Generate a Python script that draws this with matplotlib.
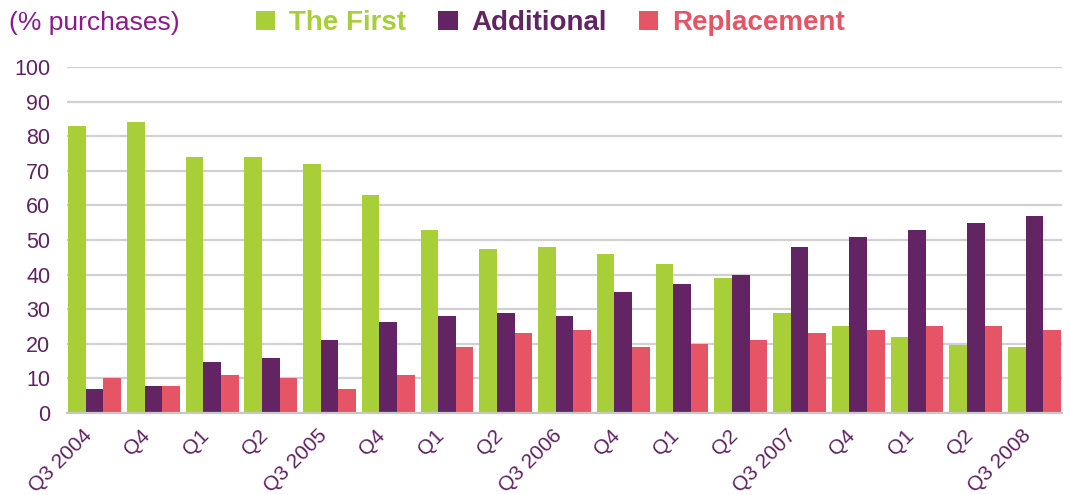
import numpy as np
import matplotlib.pyplot as plt
from matplotlib.transforms import ScaledTranslation

plt.rcParams['font.family'] = ['Liberation Sans', 'DejaVu Sans']

# quarters
labels = ['Q3 2004', 'Q4', 'Q1', 'Q2', 'Q3 2005', 'Q4', 'Q1', 'Q2', 'Q3 2006',
          'Q4', 'Q1', 'Q2', 'Q3 2007', 'Q4', 'Q1', 'Q2', 'Q3 2008']
first = [83, 84, 74, 74, 72, 63, 53, 47.5, 48, 46, 43, 39, 29, 25, 22, 19.7, 19.1]
additional = [6.8, 7.8, 14.8, 16, 21, 26.2, 28, 29, 28, 35, 37.2, 39.8, 48, 51, 53, 55, 57]
replacement = [10, 7.8, 11, 10, 6.8, 11, 19.2, 23, 24, 19.2, 19.8, 21, 23, 24, 25, 25, 24]

c_first = '#A8CE38'
c_add = '#622462'
c_rep = '#E55566'
txt = '#5F2460'

fig = plt.figure(figsize=(10.7, 4.95), dpi=100)
ax = fig.add_axes([0.0626, 0.1657, 0.93, 0.699])

x = np.arange(len(labels))
w = 0.3
b1 = ax.bar(x - w, first, w, color=c_first, label='The First')
b2 = ax.bar(x, additional, w, color=c_add, label='Additional')
b3 = ax.bar(x + w, replacement, w, color=c_rep, label='Replacement')

ax.set_ylim(0, 100)
ax.set_xlim(-0.47, 16.47)
ax.set_yticks(range(0, 101, 10))
ax.yaxis.grid(True, color='#D0D0D0', linewidth=1.6)
ax.set_axisbelow(True)
for s in ['top', 'right', 'left']:
    ax.spines[s].set_visible(False)
ax.spines['bottom'].set_color('#C8C8C8')
ax.spines['bottom'].set_linewidth(1.6)
ax.tick_params(length=0, labelsize=15.5, colors=txt)
ax.tick_params(axis='y', pad=12)
ax.tick_params(axis='x', pad=14, labelsize=15)
ax.set_xticks(x)
ax.set_xticklabels(labels, rotation=45, ha='right', va='center', rotation_mode='anchor')
# nudge labels left a little
shift = ScaledTranslation(-6 / 100, 0, fig.dpi_scale_trans)
for lab in ax.get_xticklabels():
    lab.set_transform(lab.get_transform() + shift)

fig.text(0.008, 0.953, '(% purchases)', color='#8B1A8B', fontsize=19, va='center')

leg = fig.legend(handles=[b1, b2, b3], loc='center', bbox_to_anchor=(0.5145, 0.953),
                 ncol=3, frameon=False, handlelength=0.7, handleheight=0.7,
                 handletextpad=0.5, columnspacing=1.15,
                 prop={'weight': 'bold', 'size': 20},
                 labelcolor=[c_first, c_add, c_rep])

fig.savefig('out.png', dpi=100)
